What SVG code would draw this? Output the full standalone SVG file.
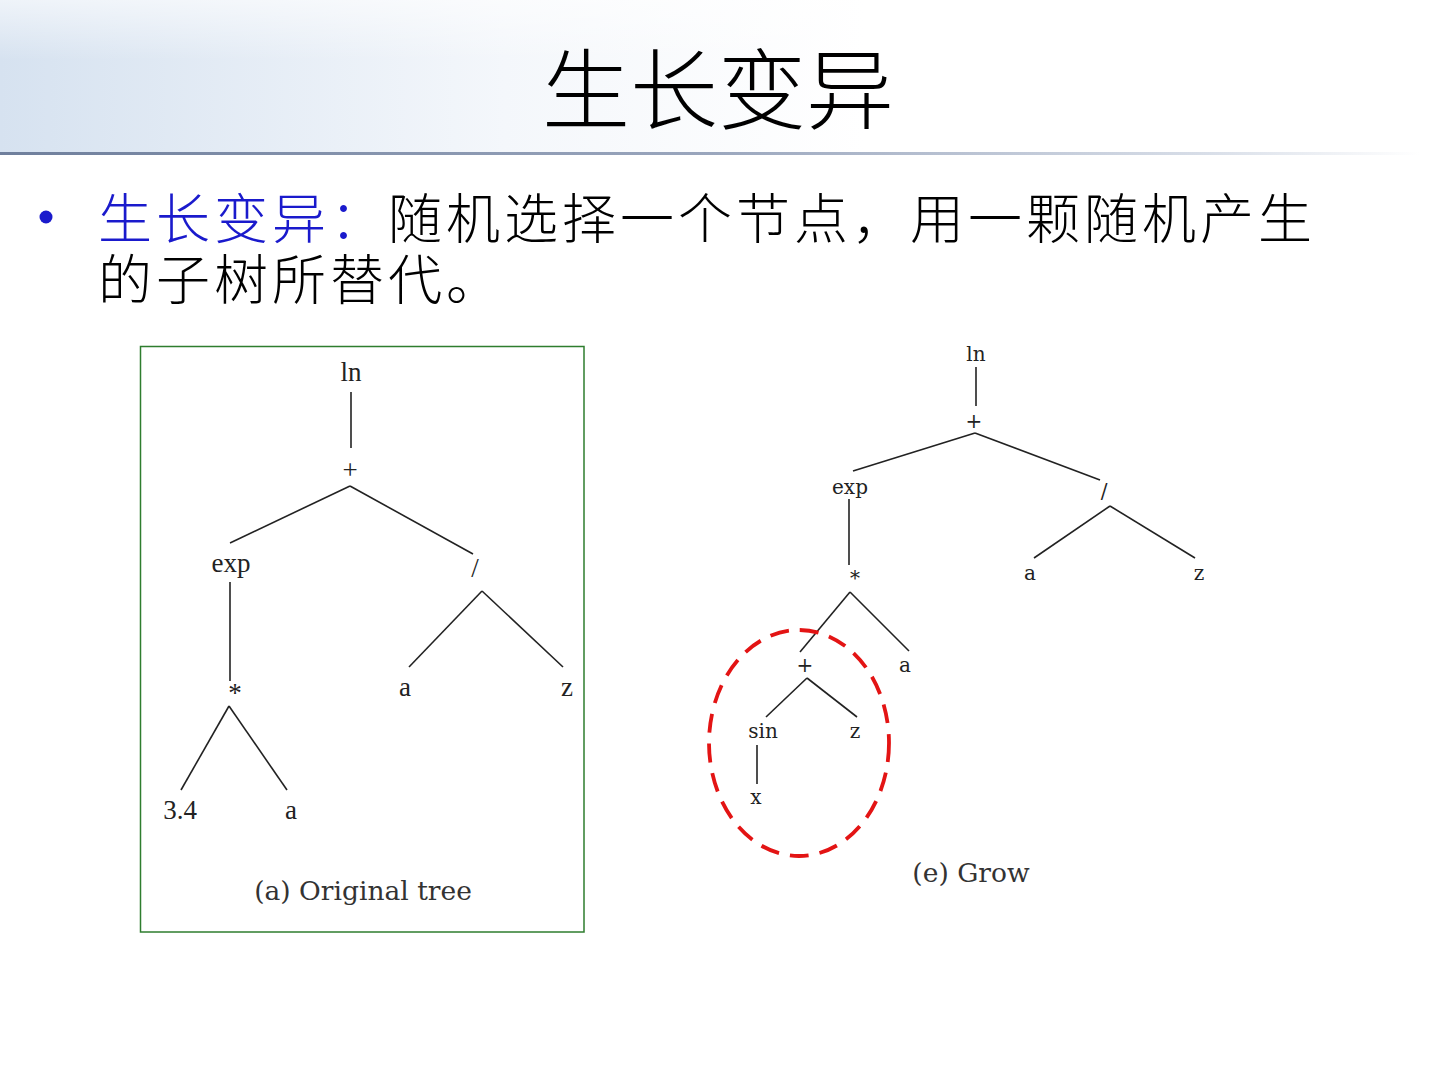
<svg xmlns="http://www.w3.org/2000/svg" width="1440" height="1080" viewBox="0 0 1440 1080">
<defs>
<linearGradient id="hdr" x1="0" y1="0" x2="1" y2="0">
<stop offset="0" stop-color="#d6e2f0"/>
<stop offset="0.35" stop-color="#f4f7fb"/>
<stop offset="0.6" stop-color="#ffffff"/>
<stop offset="1" stop-color="#ffffff"/>
</linearGradient>
<linearGradient id="hdrv" x1="0" y1="0" x2="0" y2="1">
<stop offset="0" stop-color="#ffffff" stop-opacity="0.6"/>
<stop offset="1" stop-color="#ffffff" stop-opacity="0"/>
</linearGradient>
<linearGradient id="rule" x1="0" y1="0" x2="1" y2="0">
<stop offset="0" stop-color="#6f7f9c"/>
<stop offset="0.5" stop-color="#9aa6bd"/>
<stop offset="0.85" stop-color="#d8dee8"/>
<stop offset="1" stop-color="#ffffff"/>
</linearGradient>
<style>
.cjk{font-family:"Noto Sans CJK SC","Noto Sans",sans-serif;}
.lt{font-family:"Liberation Serif","Times New Roman",serif;font-size:27px;fill:#222;text-anchor:middle;}
.rt{font-family:"DejaVu Serif","Liberation Serif",serif;font-size:20px;fill:#222;text-anchor:middle;}
.cap{font-family:"DejaVu Serif","Liberation Serif",serif;font-size:26.5px;fill:#333;text-anchor:middle;}
.edge{stroke:#222;stroke-width:1.6;fill:none;}
</style>
</defs>
<rect width="1440" height="1080" fill="#ffffff"/>
<rect x="0" y="0" width="1440" height="154" fill="url(#hdr)"/>
<rect x="0" y="0" width="1440" height="60" fill="url(#hdrv)"/>
<rect x="0" y="152" width="1420" height="3" fill="url(#rule)"/>

<text class="cjk" x="718" y="122" font-size="88" font-weight="300" text-anchor="middle" fill="#000">生长变异</text>

<g id="bullet">
<circle cx="46" cy="217" r="6.5" fill="#1a1acc"/>
<text class="cjk" x="98" y="239" font-size="54" font-weight="300" letter-spacing="4" fill="#000"><tspan fill="#1a1acc">生长变异：</tspan>随机选择一个节点，用一颗随机产生<tspan x="98" y="300">的子树所替代。</tspan></text>
</g>

<rect id="frame-a" x="140.5" y="346.5" width="443.5" height="585.5" fill="none" stroke="#2e7d2e" stroke-width="1.5"/>

<g id="connectors">
<line class="edge" x1="351" y1="392" x2="351" y2="448"/>
<line class="edge" x1="350" y1="486" x2="230" y2="543"/>
<line class="edge" x1="350" y1="486" x2="473" y2="554"/>
<line class="edge" x1="230" y1="582" x2="230" y2="681"/>
<line class="edge" x1="482" y1="591" x2="409" y2="667"/>
<line class="edge" x1="482" y1="591" x2="563" y2="667"/>
<line class="edge" x1="229" y1="706" x2="181" y2="790"/>
<line class="edge" x1="229" y1="706" x2="287" y2="790"/>

<line class="edge" x1="976" y1="367" x2="976" y2="406"/>
<line class="edge" x1="975" y1="433" x2="853" y2="471"/>
<line class="edge" x1="975" y1="433" x2="1100" y2="480"/>
<line class="edge" x1="849" y1="499" x2="849" y2="565"/>
<line class="edge" x1="1110" y1="506" x2="1034" y2="558"/>
<line class="edge" x1="1110" y1="506" x2="1195" y2="558"/>
<line class="edge" x1="850" y1="592" x2="800" y2="652"/>
<line class="edge" x1="850" y1="592" x2="909" y2="651"/>
<line class="edge" x1="807" y1="678" x2="766" y2="717"/>
<line class="edge" x1="807" y1="678" x2="857" y2="717"/>
<line class="edge" x1="757" y1="745" x2="757" y2="784"/>
</g>

<g id="tree-a">
<g id="a-ln"><text class="lt" x="351" y="381">ln</text></g>
<g id="a-plus"><text class="lt" x="350" y="479">+</text></g>
<g id="a-exp"><text class="lt" x="231" y="572">exp</text></g>
<g id="a-div"><text class="lt" x="475" y="577">/</text></g>
<g id="a-mul"><text class="lt" x="235" y="702" font-size="22">*</text></g>
<g id="a-a1"><text class="lt" x="405" y="696">a</text></g>
<g id="a-z"><text class="lt" x="567" y="696">z</text></g>
<g id="a-34"><text class="lt" x="180" y="819">3.4</text></g>
<g id="a-a2"><text class="lt" x="291" y="819">a</text></g>
<g id="a-cap"><text class="cap" x="363" y="900">(a) Original tree</text></g>
</g>

<g id="tree-e">
<g id="e-ln"><text class="rt" x="976" y="361">ln</text></g>
<g id="e-plus"><text class="rt" x="974" y="428">+</text></g>
<g id="e-exp"><text class="rt" x="850" y="494">exp</text></g>
<g id="e-div"><text class="rt" x="1104" y="498">/</text></g>
<g id="e-mul"><text class="rt" x="855" y="585" font-size="15">*</text></g>
<g id="e-a1"><text class="rt" x="1030" y="580">a</text></g>
<g id="e-z1"><text class="rt" x="1199" y="580">z</text></g>
<g id="e-plus2"><text class="rt" x="805" y="672">+</text></g>
<g id="e-a2"><text class="rt" x="905" y="672">a</text></g>
<g id="e-sin"><text class="rt" x="763" y="738">sin</text></g>
<g id="e-z2"><text class="rt" x="855" y="738">z</text></g>
<g id="e-x"><text class="rt" x="756" y="804">x</text></g>
<g id="e-cap"><text class="cap" x="971" y="882">(e) Grow</text></g>
</g>

<ellipse id="highlight" cx="799" cy="743" rx="90" ry="113" fill="none" stroke="#e31414" stroke-width="3.8" stroke-dasharray="19 11"/>
</svg>
